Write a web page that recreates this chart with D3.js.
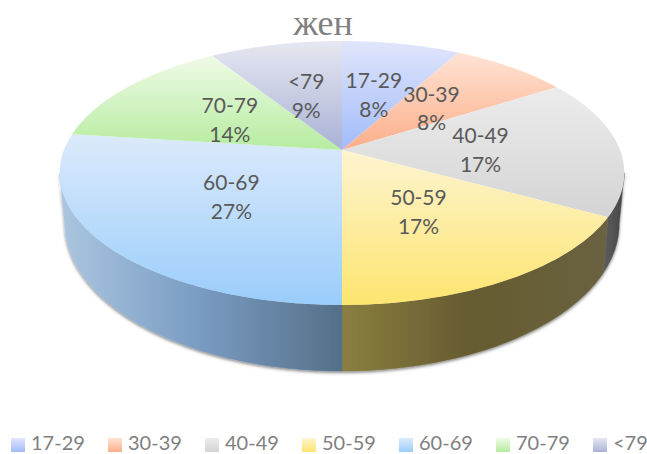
<!DOCTYPE html>
<html>
<head>
<meta charset="utf-8">
<script src="https://cdn.jsdelivr.net/npm/d3@7"></script>
<style>
  html, body { margin: 0; padding: 0; background: #fff; }
  svg { display: block; }
</style>
</head>
<body>
<svg id="chart" width="647" height="454"></svg>
<script>
// Age groups and their shares, in percent
const categories = ["17-29", "30-39", "40-49", "50-59", "60-69", "70-79", "<79"];
const shares = [8, 8, 17, 17, 27, 14, 9];
const chartTitle = "жен";

// Top face gradient stops per slice: far edge, near edge
const topLight = ["#e0e6fb", "#ffe3d4", "#ececec", "#fdf4d0", "#dceafb", "#effae6", "#e6e7f1"];
const topDeep = ["#a2bbfa", "#fcae89", "#d4d4d4", "#fde56f", "#9acdfb", "#b6eca0", "#a9b2d5"];
// Side wall gradient stops per slice: left, middle, right
const sideLeft = ["#8094c4", "#c08a6c", "#5e5e5e", "#8a7f40", "#abc6e0", "#8cb87c", "#8a90aa"];
const sideMid = ["#6c7ea8", "#a4775e", "#525252", "#655b30", "#7b9dc4", "#789e6a", "#767b92"];
const sideRight = ["#5a6a8c", "#8a6450", "#454545", "#6a6240", "#547089", "#64845a", "#62667a"];

const width = 647, height = 454;
const svg = d3.select("#chart");
const defs = svg.append("defs");

// Perspective of the tilted disc: a unit circle point maps through a projective divide
const apexX = 342;
const tilt = 0.174;
const topFace = { a: 278, b: 128, y: 150 };
const baseFace = { a: 273, b: 143, y: 198 };

function project(face, angle, r = 1) {
  const s = Math.sin(angle) * r, c = Math.cos(angle) * r;
  const w = 1 + tilt * c;
  return [apexX + face.a * s / w, face.y - face.b * c / w];
}

const arcs = d3.pie().sort(null).value(d => d)(shares);
const line = d3.line();

function rim(face, a0, a1) {
  const steps = Math.max(2, Math.ceil((a1 - a0) / 0.02));
  return d3.range(steps + 1).map(i => project(face, a0 + (a1 - a0) * i / steps));
}

// Soft shadow under the disc wall
const shadow = defs.append("filter").attr("id", "wallShadow")
  .attr("x", "-10%").attr("y", "-10%").attr("width", "120%").attr("height", "125%");
shadow.append("feDropShadow")
  .attr("dx", 0).attr("dy", 1.5).attr("stdDeviation", 1.6)
  .attr("flood-color", "#000").attr("flood-opacity", 0.5);

arcs.forEach((d, i) => {
  const t = defs.append("linearGradient").attr("id", `top${i}`)
    .attr("x1", 0).attr("y1", 0).attr("x2", 0).attr("y2", 1);
  t.append("stop").attr("offset", 0).attr("stop-color", topLight[i]);
  t.append("stop").attr("offset", 1).attr("stop-color", topDeep[i]);
  const w = defs.append("linearGradient").attr("id", `side${i}`)
    .attr("x1", 0).attr("y1", 0).attr("x2", 1).attr("y2", 0);
  w.append("stop").attr("offset", 0).attr("stop-color", sideLeft[i]);
  w.append("stop").attr("offset", 0.48).attr("stop-color", sideMid[i]);
  w.append("stop").attr("offset", 1).attr("stop-color", sideRight[i]);
});

// Disc wall, only the part that faces the viewer
const frontLimit = Math.acos(-tilt);
const walls = svg.append("g").attr("filter", "url(#wallShadow)");
arcs.forEach((d, i) => {
  const a0 = Math.max(d.startAngle, frontLimit);
  const a1 = Math.min(d.endAngle, 2 * Math.PI - frontLimit);
  if (a1 <= a0) return;
  const pts = rim(topFace, a0, a1).concat(rim(baseFace, a0, a1).reverse());
  walls.append("path")
    .attr("d", line(pts) + "Z")
    .attr("fill", `url(#side${i})`)
    .attr("stroke", `url(#side${i})`)
    .attr("stroke-width", 0.4);
});

// Top face slices
svg.append("g").selectAll("path").data(arcs).join("path")
  .attr("d", d => line([project(topFace, 0, 0), ...rim(topFace, d.startAngle, d.endAngle)]) + "Z")
  .attr("fill", (d, i) => `url(#top${i})`);

// Slice labels at the projected mid radius
const labels = svg.append("g")
  .attr("font-family", "Lato, 'Noto Sans', sans-serif")
  .attr("font-size", 21)
  .attr("fill", "#595959")
  .attr("text-anchor", "middle");
arcs.forEach((d, i) => {
  const [x, y] = project(topFace, (d.startAngle + d.endAngle) / 2, 0.5);
  const t = labels.append("text").attr("x", x).attr("y", y);
  t.append("tspan").attr("x", x).attr("dy", "-0.22em").text(categories[i]);
  t.append("tspan").attr("x", x).attr("dy", "1.38em").text(`${shares[i]}%`);
});

// Title
svg.append("text")
  .attr("x", 323).attr("y", 35)
  .attr("text-anchor", "middle")
  .attr("font-family", "'Liberation Serif', serif")
  .attr("font-size", 36)
  .attr("fill", "#7f7f7f")
  .text(chartTitle);

// Legend along the bottom edge
const legendX = d3.scalePoint().domain(categories).range([11, 593]);
const legend = svg.append("g").selectAll("g").data(categories).join("g")
  .attr("transform", d => `translate(${legendX(d)},438)`);
legend.append("rect")
  .attr("width", 14).attr("height", 14)
  .attr("fill", (d, i) => `url(#top${i})`);
legend.append("text")
  .attr("x", 20).attr("y", 11.5)
  .attr("font-family", "Lato, 'Noto Sans', sans-serif")
  .attr("font-size", 20)
  .attr("fill", "#7f7f7f")
  .text(d => d);
</script>
</body>
</html>
